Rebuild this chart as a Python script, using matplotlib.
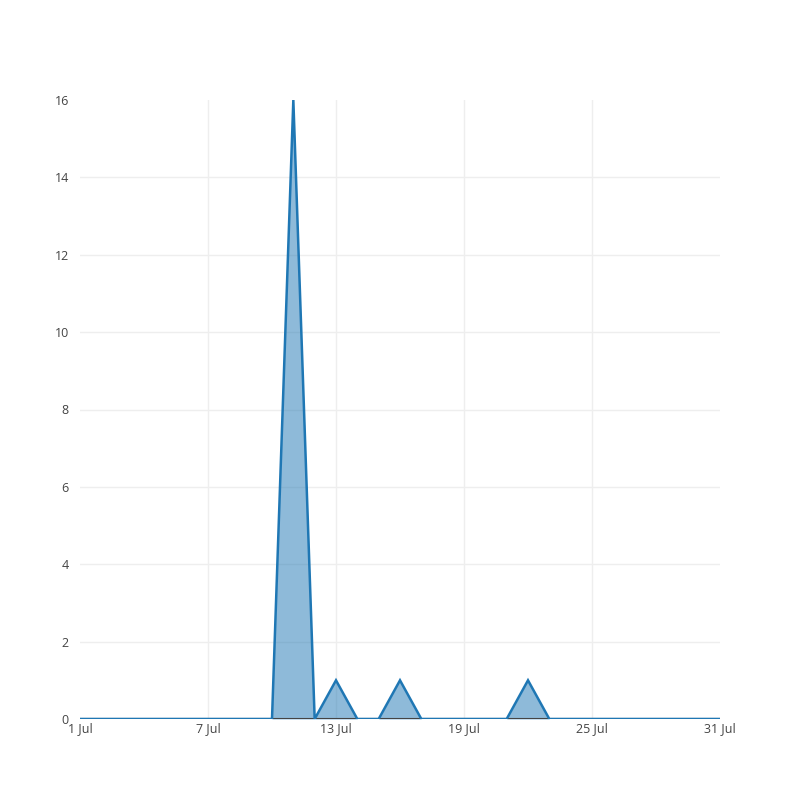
import matplotlib
matplotlib.use("Agg")
import matplotlib.pyplot as plt
import matplotlib.dates as mdates
import numpy as np
import pandas as pd

dates = pd.date_range("2023-07-01", "2023-07-31", freq="D")
values = [0,0,0,0,0,0,0,0,0,0,16,0,1,0,0,1,0,0,0,0,0,1,0,0,0,0,0,0,0,0,0]
y_ticks = [0, 2, 4, 6, 8, 10, 12, 14, 16]
x_tick_dates = pd.to_datetime(["2023-07-01", "2023-07-07", "2023-07-13",
                               "2023-07-19", "2023-07-25", "2023-07-31"])
x_tick_labels = ["1 Jul", "7 Jul", "13 Jul", "19 Jul", "25 Jul", "31 Jul"]

plt.rcParams['font.family'] = ['Open Sans', 'DejaVu Sans']

fig = plt.figure(figsize=(8, 8), dpi=100)
ax = fig.add_axes([0.1, 0.10125, 0.8, 0.77375])

color = "#1f77b4"
ax.fill_between(dates, values, 0, color=color, alpha=0.5, linewidth=0, zorder=2)
ax.plot(dates, values, color=color, linewidth=1.8, zorder=5, solid_joinstyle='miter')

ax.set_xlim(dates[0], dates[-1])
ax.set_ylim(0, 16)
ax.set_yticks(y_ticks)
ax.set_yticklabels([str(v) for v in y_ticks])
ax.set_xticks(x_tick_dates)
ax.set_xticklabels(x_tick_labels)

for s in ax.spines.values():
    s.set_visible(False)
ax.axhline(0, color="#444444", linewidth=1.5, zorder=4)

ax.grid(True, color="#eeeeee", linewidth=1, zorder=0)
ax.set_axisbelow(True)
xg = ax.xaxis.get_gridlines()
xg[0].set_visible(False)
xg[-1].set_visible(False)
yg = ax.yaxis.get_gridlines()
yg[0].set_visible(False)
yg[-1].set_visible(False)
ax.tick_params(axis='both', length=0, labelsize=9, colors="#444444")
ax.tick_params(axis='x', pad=2)
ax.tick_params(axis='y', pad=8)

fig.savefig("out.png", dpi=100)
